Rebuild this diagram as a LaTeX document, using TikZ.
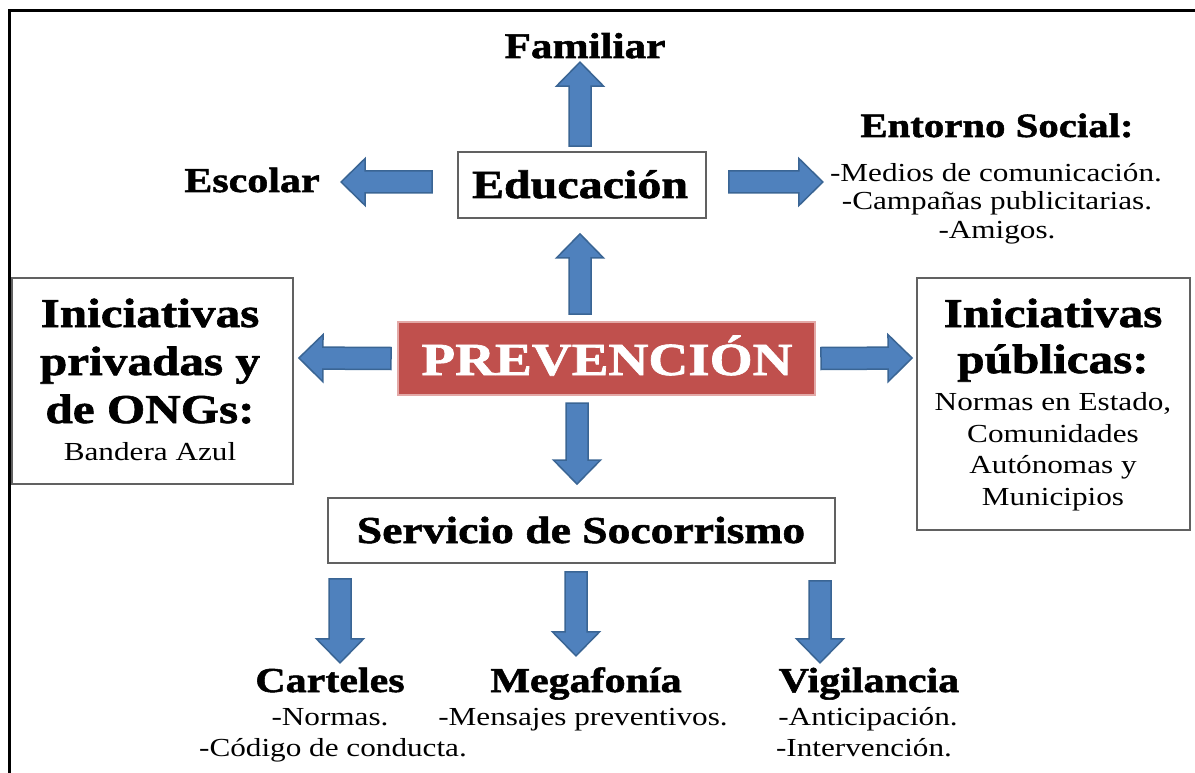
\documentclass[tikz,border=0pt]{standalone}
\usepackage{fontspec}
\setmainfont{Liberation Serif}[FakeStretch=1.2, BoldFeatures={FakeBold=1.5}]
\usetikzlibrary{calc}
\definecolor{afill}{HTML}{4F81BD}
\definecolor{adraw}{HTML}{3A6594}
\definecolor{pfill}{HTML}{C0504D}
\definecolor{pdraw}{HTML}{E3A9A7}
\newcommand\arrW{11pt}
\newcommand\arrH{23.5pt}
\newcommand\arrL{24pt}
\newcommand\fsz[2]{\fontsize{#1}{#2}\selectfont}
\tikzset{
  boxnode/.style={draw=black!62, line width=1.8pt, fill=white, inner sep=0pt},
  tx/.style={inner sep=0pt, anchor=base},
  bigb/.style={tx, font=\fsz{41}{48}\bfseries},
  subt/.style={tx, font=\fsz{26}{30}},
  headb/.style={tx, font=\fsz{35}{40}\bfseries},
  barrow/.style={fill=afill, draw=adraw, line width=1.5pt, line join=miter,
    to path={
      ($(\tikztostart)!\arrW!90:(\tikztotarget)$)
      -- ($(\tikztotarget)!\arrL!(\tikztostart)!\arrW!-90:(\tikztostart)$)
      -- ($(\tikztotarget)!\arrL!(\tikztostart)!\arrH!-90:(\tikztostart)$)
      -- (\tikztotarget)
      -- ($(\tikztotarget)!\arrL!(\tikztostart)!\arrH!90:(\tikztostart)$)
      -- ($(\tikztotarget)!\arrL!(\tikztostart)!\arrW!90:(\tikztostart)$)
      -- ($(\tikztostart)!\arrW!-90:(\tikztotarget)$) -- cycle}}
}
\begin{document}
\begin{tikzpicture}[x=1pt, y=-1pt]
\useasboundingbox (0,0) rectangle (1195,773);
% outer frame (cropped at right and bottom)
\draw[line width=3pt] (9,800) -- (9,11) -- (1210,11);

% boxes
\node[boxnode, minimum width=248pt, minimum height=66pt] (edu) at (582,185) {};
\node[fill=pfill, draw=pdraw, line width=2pt, minimum width=417pt, minimum height=73pt, inner sep=0pt] (prev) at (606.5,358.5) {};
\node[boxnode, minimum width=281pt, minimum height=206pt] (priv) at (152.5,381) {};
\node[boxnode, minimum width=273pt, minimum height=252pt] (pub) at (1053.5,404) {};
\node[boxnode, minimum width=507pt, minimum height=65pt] (serv) at (581.5,530.5) {};

% texts
\node[tx, font=\fsz{36}{40}\bfseries] (fam) at (585,58) {Familiar};
\node[headb] (esc) at (252,192) {Escolar};
\node[tx, font=\fsz{40}{46}\bfseries] (eduT) at (580,198) {Educación};
\node[tx, font=\fsz{34}{40}\bfseries] (ent) at (997,137) {Entorno Social:};
\node[subt] (ent1) at (996,182) {-Medios de comunicación.};
\node[subt] (ent2) at (997,210) {-Campañas publicitarias.};
\node[subt] (ent3) at (997,238) {-Amigos.};
\node[tx, font=\fsz{46}{52}\bfseries, text=white] (prevT) at (607,375) {PREVENCIÓN};
\node[bigb] (priv1) at (150,327) {Iniciativas};
\node[bigb] (priv2) at (150,375) {privadas y};
\node[bigb] (priv3) at (150,423) {de ONGs:};
\node[subt] (priv4) at (150,460) {Bandera Azul};
\node[bigb] (pub1) at (1053,327) {Iniciativas};
\node[bigb] (pub2) at (1053,373) {públicas:};
\node[subt] (pub3) at (1053,410) {Normas en Estado,};
\node[subt] (pub4) at (1053,442) {Comunidades};
\node[subt] (pub5) at (1053,473) {Autónomas y};
\node[subt] (pub6) at (1053,505) {Municipios};
\node[tx, font=\fsz{38}{44}\bfseries] (servT) at (581,543) {Servicio de Socorrismo};
\node[headb] (cart) at (330,692) {Carteles};
\node[subt] (cart1) at (330,725) {-Normas.};
\node[subt] (cart2) at (333,756) {-Código de conducta.};
\node[headb] (mega) at (586,692) {Megafonía};
\node[subt] (mega1) at (583,725) {-Mensajes preventivos.};
\node[headb] (vig) at (869,692) {Vigilancia};
\node[subt] (vig1) at (868,725) {-Anticipación.};
\node[subt] (vig2) at (864,756) {-Intervención.};

% arrow end points
\coordinate (a1s) at ($(edu.north)+(-2,-5)$);
\coordinate (a1e) at ($(edu.north)+(-2,-89)$);
\coordinate (a2s) at ($(edu.west)+(-25,-3)$);
\coordinate (a2e) at ($(edu.west)+(-116,-3)$);
\coordinate (a3s) at ($(edu.east)+(22,-3)$);
\coordinate (a3e) at ($(edu.east)+(116,-3)$);
\coordinate (a4s) at ($(prev.north)+(-26.5,-7)$);
\coordinate (a4e) at ($(edu.south)+(-2,15)$);
\coordinate (a5s) at ($(prev.west)+(-6,0)$);
\coordinate (a5e) at ($(priv.east)+(5,-23)$);
\coordinate (a6s) at ($(prev.east)+(5,0)$);
\coordinate (a6e) at ($(pub.west)+(-4,-46)$);
\coordinate (a7s) at ($(prev.south)+(-29.5,7)$);
\coordinate (a7e) at ($(serv.north)+(-4.5,-13)$);
\coordinate (a8s) at ($(serv.south)+(-241.5,15)$);
\coordinate (a8e) at ($(serv.south)+(-241.5,99)$);
\coordinate (a9s) at ($(serv.south)+(-5.5,8)$);
\coordinate (a9e) at ($(serv.south)+(-5.5,92)$);
\coordinate (a10s) at ($(serv.south)+(238.5,17)$);
\coordinate (a10e) at ($(serv.south)+(238.5,99)$);

\foreach \i in {1,...,10} {
  \draw[barrow] (a\i s) to (a\i e);
}
\end{tikzpicture}
\end{document}
